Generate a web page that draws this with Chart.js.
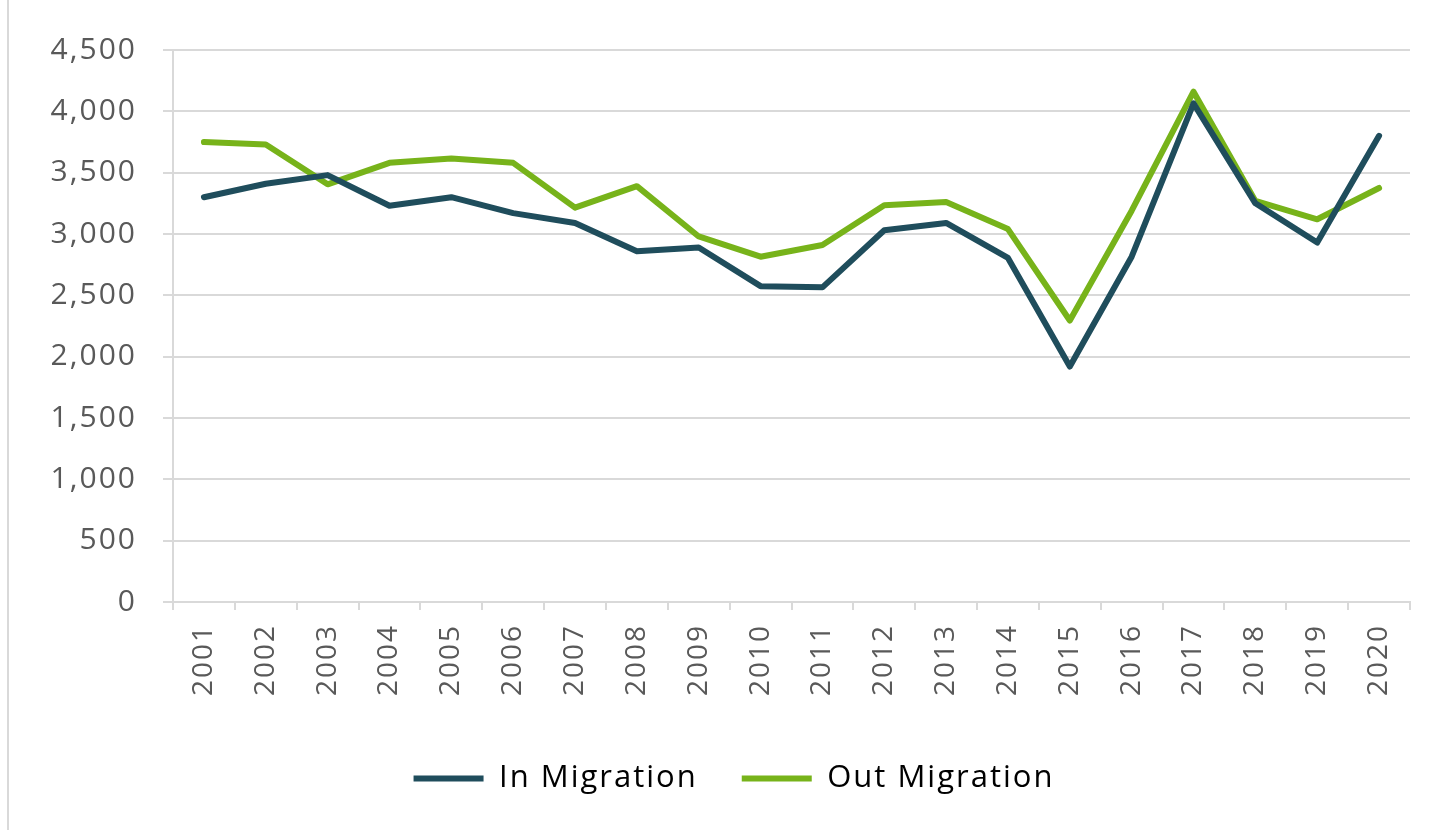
<!DOCTYPE html>
<html>
<head>
<meta charset="utf-8">
<script src="https://cdn.jsdelivr.net/npm/chart.js@4/dist/chart.umd.min.js"></script>
<style>
  html, body { margin: 0; padding: 0; background: #fff; }
  #wrap { position: absolute; left: 0; top: 0; width: 1440px; height: 830px; }
  #edge { position: absolute; left: 7px; top: 0; width: 2px; height: 830px; background: #d9d9d9; }
  canvas { position: absolute; left: 0; top: 0; }
</style>
</head>
<body>
<div id="wrap">
  <div id="edge"></div>
  <canvas id="grafico" width="1440" height="830"></canvas>
</div>
<script>
// Dados
const anos = ["2001", "2002", "2003", "2004", "2005", "2006", "2007", "2008", "2009", "2010",
              "2011", "2012", "2013", "2014", "2015", "2016", "2017", "2018", "2019", "2020"];
const inMigration = [3300, 3410, 3480, 3230, 3300, 3170, 3090, 2860, 2890, 2575,
                     2565, 3030, 3090, 2805, 1920, 2815, 4065, 3250, 2930, 3800];
const outMigration = [3750, 3730, 3405, 3580, 3615, 3580, 3215, 3390, 2980, 2815,
                      2910, 3235, 3260, 3040, 2295, 3190, 4160, 3270, 3120, 3375];
const ticksY = [0, 500, 1000, 1500, 2000, 2500, 3000, 3500, 4000, 4500];

const corIn = '#1f4d5c';
const corOut = '#77b31a';
const cinza = '#d9d9d9';
const texto = '#595959';

Chart.defaults.font.family = "'Open Sans', sans-serif";
Chart.defaults.color = texto;

// texto mais espaçado, como a fonte original
const espacamento = {
  id: 'espacamento',
  beforeInit: chart => { chart.ctx.letterSpacing = '2px'; },
  beforeDraw: chart => { chart.ctx.letterSpacing = '2px'; }
};

function serie(label, dados, cor) {
  return {
    label: label,
    data: dados,
    borderColor: cor,
    backgroundColor: cor,
    borderWidth: 6,
    borderCapStyle: 'round',
    borderJoinStyle: 'round',
    pointRadius: 0,
    tension: 0
  };
}

new Chart(document.getElementById('grafico'), {
  type: 'line',
  data: {
    labels: anos,
    datasets: [
      serie("In Migration", inMigration, corIn),
      serie("Out Migration", outMigration, corOut)
    ]
  },
  plugins: [espacamento],
  options: {
    responsive: false,
    animation: false,
    layout: { padding: { left: 8, top: 50, right: 30, bottom: 26 } },
    plugins: {
      tooltip: { enabled: false },
      legend: {
        position: 'bottom',
        labels: {
          boxWidth: 70,
          boxHeight: 6,
          padding: 44,
          font: { size: 31 },
          color: texto,
          generateLabels: chart => chart.data.datasets.map((d, i) => ({
            text: d.label,
            fillStyle: d.borderColor,
            strokeStyle: d.borderColor,
            lineWidth: 0,
            datasetIndex: i
          }))
        }
      }
    },
    scales: {
      x: {
        offset: true,
        afterFit: s => { s.height = 117; },
        grid: { offset: true, drawOnChartArea: false, drawTicks: true, tickLength: 8, color: cinza, lineWidth: 2 },
        border: { display: true, color: cinza, width: 2 },
        ticks: { minRotation: 90, maxRotation: 90, padding: 14, font: { size: 28 }, color: texto }
      },
      y: {
        min: 0,
        max: 4500,
        afterFit: s => { s.width = 165; },
        afterBuildTicks: s => { s.ticks = ticksY.map(v => ({ value: v })); },
        grid: { color: cinza, lineWidth: 2, tickLength: 10 },
        border: { display: true, color: cinza, width: 2 },
        ticks: {
          padding: 26,
          font: { size: 30 },
          color: texto,
          callback: v => v.toLocaleString('en-US')
        }
      }
    }
  }
});
</script>
</body>
</html>
